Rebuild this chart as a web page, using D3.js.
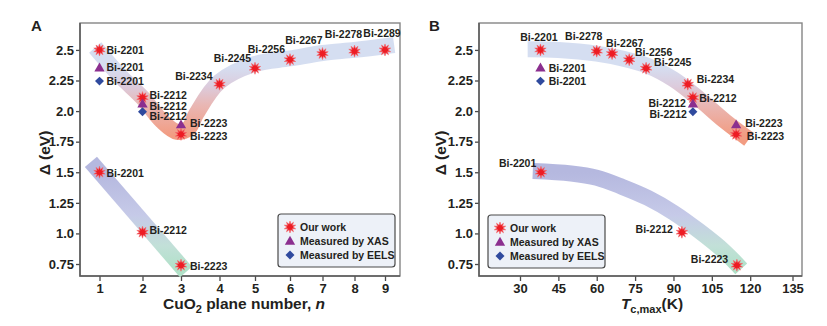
<!DOCTYPE html>
<html>
<head>
<meta charset="utf-8">
<script src="https://cdn.jsdelivr.net/npm/d3@7"></script>
<style>
  body { margin: 0; background: #fff; }
  svg text { font-family: "Liberation Sans", Arial, sans-serif; font-weight: bold; fill: #231f20; }
</style>
</head>
<body>
<div id="graphic"></div>
<script>
// gap values, our work (upper branch)
var compounds = ["Bi-2201", "Bi-2212", "Bi-2223", "Bi-2234", "Bi-2245", "Bi-2256", "Bi-2267", "Bi-2278", "Bi-2289"];
var planeNumber = [1, 2, 3, 4, 5, 6, 7, 8, 9];
var tcMax = [38, 97.6, 114.5, 95.6, 79.3, 72.7, 66, 60, null];
var gapOurWork = [2.5, 2.11, 1.81, 2.22, 2.35, 2.42, 2.47, 2.49, 2.5];

// other measurements
var xasCompounds = ["Bi-2201", "Bi-2212", "Bi-2223"];
var xasPlaneNumber = [1, 2, 3];
var xasTc = [38, 97.6, 114.5];
var gapXAS = [2.355, 2.06, 1.89];

var eelsCompounds = ["Bi-2201", "Bi-2212"];
var eelsPlaneNumber = [1, 2];
var eelsTc = [38, 97.6];
var gapEELS = [2.245, 1.995];

// lower branch
var lowCompounds = ["Bi-2201", "Bi-2212", "Bi-2223"];
var lowPlaneNumber = [1, 2, 3];
var lowTc = [38.2, 93.3, 114.8];
var gapLow = [1.5, 1.01, 0.74];

// guide bands (center lines)
var bandUpperA = [[0.9, 2.52], [1.5, 2.28], [2, 2.11], [2.5, 1.92], [2.9, 1.83], [3.2, 1.86], [3.4, 1.98], [4, 2.24], [5, 2.385], [6, 2.43], [7, 2.475], [8, 2.5], [9, 2.53], [9.3, 2.54]];
var bandLowerA = [[0.8, 1.585], [3.13, 0.685]];
var bandUpperB = [[33, 2.505], [45, 2.5], [60, 2.47], [70, 2.43], [80, 2.37], [90, 2.26], [100, 2.1], [110, 1.92], [119.5, 1.77]];
var bandLowerB = [[35, 1.51], [50, 1.49], [60, 1.455], [70, 1.38], [80, 1.29], [90, 1.17], [100, 1.02], [110, 0.85], [116.5, 0.71]];

var gapTicks = [0.75, 1.0, 1.25, 1.5, 1.75, 2.0, 2.25, 2.5];
var gapTickLabels = ["0.75", "1.0", "1.25", "1.5", "1.75", "2.0", "2.25", "2.5"];
var nTicks = [1, 2, 3, 4, 5, 6, 7, 8, 9];
var tcTicks = [30, 45, 60, 75, 90, 105, 120, 135];
var legendLabels = ["Our work", "Measured by XAS", "Measured by EELS"];

// label placement [dx, dy, anchor]
var labA = {
  ours: [[7, 0, "start"], [7, -2.2, "start"], [9, 2, "start"], [-7, -8, "end"], [-4, -9.5, "end"], [-5, -10.5, "end"], [0, -13.5, "end"], [-11, -17, "middle"], [-3, -17, "middle"]],
  xas: [[7, 0, "start"], [7, 2.3, "start"], [9, -1, "start"]],
  eels: [[7, 0, "start"], [7, 5, "start"]],
  low: [[7, 1.5, "start"], [7, -2, "start"], [9, 1.5, "start"]]
};
var labB = {
  ours: [[-1.5, -12.6, "middle"], [6.3, 1, "start"], [10.7, 2, "start"], [9, -5, "start"], [8, -5.6, "start"], [5.7, -7, "start"], [-6, -10.6, "start"], [-13, -15, "middle"]],
  xas: [[8.3, 0.6, "start"], [-7, 0, "end"], [9, -1, "start"]],
  eels: [[8.3, 0.7, "start"], [-6, 3, "end"]],
  low: [[-4.7, -9, "end"], [-9, -2.4, "end"], [-8.7, -5.7, "end"]]
};

var plotTop = 23, plotBottom = 276;
var colStar = "#ed1c24", colTri = "#8b2f8f", colDia = "#2f4a9e";

var svg = d3.select("#graphic").append("svg")
  .attr("width", 827)
  .attr("height", 326);

var y = d3.scaleLinear().domain([0.652, 2.72]).range([plotBottom, plotTop]);

// tick spacing on the printed n axis is not uniform
var xA = d3.scaleLinear()
  .domain(nTicks)
  .range([99.5, 142.5, 181, 219.5, 255, 290, 322.5, 354.5, 385]);
var xB = d3.scaleLinear()
  .domain([30, 120, 135])
  .range([520, 750.2, 792.5]);

var defs = svg.append("defs");

function gradient(id, stops) {
  var g = defs.append("linearGradient")
    .attr("id", id)
    .attr("gradientUnits", "userSpaceOnUse")
    .attr("x1", 0).attr("x2", 0)
    .attr("y1", y(stops[0][0])).attr("y2", y(stops[stops.length - 1][0]));
  var span = y(stops[stops.length - 1][0]) - y(stops[0][0]);
  stops.forEach(function(s) {
    g.append("stop")
      .attr("offset", (y(s[0]) - y(stops[0][0])) / span)
      .attr("stop-color", s[1]);
  });
}
gradient("gradUpper", [[2.36, "#d5def1"], [2.2, "#dccbdc"], [2.05, "#e9b7b4"], [1.8, "#f29c82"]]);
gradient("gradLower", [[1.5, "#b5b8df"], [1.15, "#c6cae8"], [0.9, "#c2e0d8"], [0.7, "#b0e1c8"]]);

function starPath(r1, r2, n) {
  var pts = d3.range(2 * n).map(function(i) {
    return [i * Math.PI / n, i % 2 ? r2 : r1];
  });
  return d3.lineRadial().curve(d3.curveLinearClosed)(pts);
}
var star = starPath(6, 3, 10);
var tri = d3.symbol(d3.symbolTriangle, 46)();
var dia = d3.symbol(d3.symbolSquare, 40)();

function drawMarker(g, kind, px, py) {
  if (kind == "star") {
    g.append("path").attr("d", star)
      .attr("transform", "translate(" + px + "," + py + ")")
      .style("fill", colStar)
      .style("stroke", "#f46a6f").style("stroke-width", 0.6);
  } else if (kind == "tri") {
    g.append("path").attr("d", tri)
      .attr("transform", "translate(" + px + "," + (py + 0.8) + ")")
      .style("fill", colTri);
  } else {
    g.append("path").attr("d", dia)
      .attr("transform", "translate(" + px + "," + py + ") rotate(45)")
      .style("fill", colDia);
  }
}

function drawSeries(g, x, xs, ys, names, kind, labs) {
  for (var i = 0; i < xs.length; i++) {
    if (xs[i] == null) continue;
    drawMarker(g, kind, x(xs[i]), y(ys[i]));
  }
  for (var j = 0; j < xs.length; j++) {
    if (xs[j] == null) continue;
    var l = labs.shift();
    g.append("text")
      .attr("x", x(xs[j]) + l[0])
      .attr("y", y(ys[j]) + l[1])
      .attr("dy", "0.35em")
      .attr("text-anchor", l[2])
      .style("font-size", "10.5px")
      .text(names[j]);
  }
}

function drawBand(g, x, pts, grad) {
  var line = d3.line()
    .x(function(d) { return x(d[0]); })
    .y(function(d) { return y(d[1]); })
    .curve(d3.curveCatmullRom.alpha(0.5));
  g.append("path")
    .attr("d", line(pts))
    .style("fill", "none")
    .style("stroke", "url(#" + grad + ")")
    .style("stroke-width", 16)
    .style("stroke-linecap", "butt");
}

function drawFrame(g, left, right, x, ticks) {
  g.append("rect")
    .attr("x", left).attr("y", plotTop)
    .attr("width", right - left).attr("height", plotBottom - plotTop)
    .style("fill", "none").style("stroke", "#858585").style("stroke-width", 1.4);

  var ya = g.append("g")
    .attr("transform", "translate(" + left + ",0)")
    .call(d3.axisLeft(y).tickValues(gapTicks)
      .tickFormat(function(d, i) { return gapTickLabels[i]; })
      .tickSize(4).tickPadding(2));
  var xa = g.append("g")
    .attr("transform", "translate(0," + plotBottom + ")")
    .call(d3.axisBottom(x).tickValues(ticks).tickSize(5).tickPadding(3));

  [ya, xa].forEach(function(a) {
    a.select(".domain").remove();
    a.selectAll("line").style("stroke", "#4a4a4a").style("stroke-width", 1.3);
    a.selectAll("text")
      .style("font-size", "13px")
      .style("font-family", "'Liberation Sans', Arial, sans-serif")
      .style("font-weight", "bold")
      .style("fill", "#231f20");
  });

  g.append("path")
    .attr("d", "M" + left + "," + plotTop + "V" + plotBottom + "H" + right)
    .style("fill", "none").style("stroke", "#5a5a5a").style("stroke-width", 1.5);
}

function drawLegend(g, lx, ly) {
  g.append("rect")
    .attr("x", lx).attr("y", ly)
    .attr("width", 117).attr("height", 53).attr("rx", 3)
    .style("fill", "#edf1f8").style("stroke", "#4a4a4a").style("stroke-width", 1.2);
  ["star", "tri", "dia"].forEach(function(k, i) {
    var cy = ly + 13 + i * 14;
    drawMarker(g, k, lx + 12, cy);
    g.append("text")
      .attr("x", lx + 22).attr("y", cy)
      .attr("dy", "0.35em")
      .style("font-size", "10.5px")
      .text(legendLabels[i]);
  });
}

function yTitle(g, tx) {
  g.append("text")
    .attr("transform", "translate(" + tx + ",153) rotate(-90)")
    .attr("text-anchor", "middle")
    .style("font-size", "15.5px")
    .text("\u0394 (eV)");
}

// panel A: gap against number of CuO2 planes
var gA = svg.append("g");
drawFrame(gA, 80, 400, xA, nTicks);
drawBand(gA, xA, bandUpperA, "gradUpper");
drawBand(gA, xA, bandLowerA, "gradLower");
drawSeries(gA, xA, planeNumber, gapOurWork, compounds, "star", labA.ours.slice());
drawSeries(gA, xA, xasPlaneNumber, gapXAS, xasCompounds, "tri", labA.xas.slice());
drawSeries(gA, xA, eelsPlaneNumber, gapEELS, eelsCompounds, "dia", labA.eels.slice());
drawSeries(gA, xA, lowPlaneNumber, gapLow, lowCompounds, "star", labA.low.slice());
drawLegend(gA, 278, 214);
yTitle(gA, 50);
gA.append("text").attr("x", 31).attr("y", 30.5).style("font-size", "15px").text("A");

var tA = gA.append("text")
  .attr("x", 244).attr("y", 309)
  .attr("text-anchor", "middle")
  .style("font-size", "15.5px");
tA.append("tspan").text("CuO");
tA.append("tspan").attr("dy", 4).style("font-size", "11px").text("2");
tA.append("tspan").attr("dy", -4).text(" plane number, ");
tA.append("tspan").style("font-style", "italic").text("n");

// panel B: gap against maximum Tc
var gB = svg.append("g");
drawFrame(gB, 479, 802, xB, tcTicks);
drawBand(gB, xB, bandUpperB, "gradUpper");
drawBand(gB, xB, bandLowerB, "gradLower");
drawSeries(gB, xB, tcMax, gapOurWork, compounds, "star", labB.ours.slice());
drawSeries(gB, xB, xasTc, gapXAS, xasCompounds, "tri", labB.xas.slice());
drawSeries(gB, xB, eelsTc, gapEELS, eelsCompounds, "dia", labB.eels.slice());
drawSeries(gB, xB, lowTc, gapLow, lowCompounds, "star", labB.low.slice());
drawLegend(gB, 488, 215);
yTitle(gB, 446);
gB.append("text").attr("x", 429).attr("y", 30.5).style("font-size", "15px").text("B");

var tB = gB.append("text")
  .attr("x", 652).attr("y", 309)
  .attr("text-anchor", "middle")
  .style("font-size", "15.5px");
tB.append("tspan").style("font-style", "italic").text("T");
tB.append("tspan").attr("dy", 4).style("font-size", "11px").text("c,max");
tB.append("tspan").attr("dy", -4).text("(K)");
</script>
</body>
</html>
